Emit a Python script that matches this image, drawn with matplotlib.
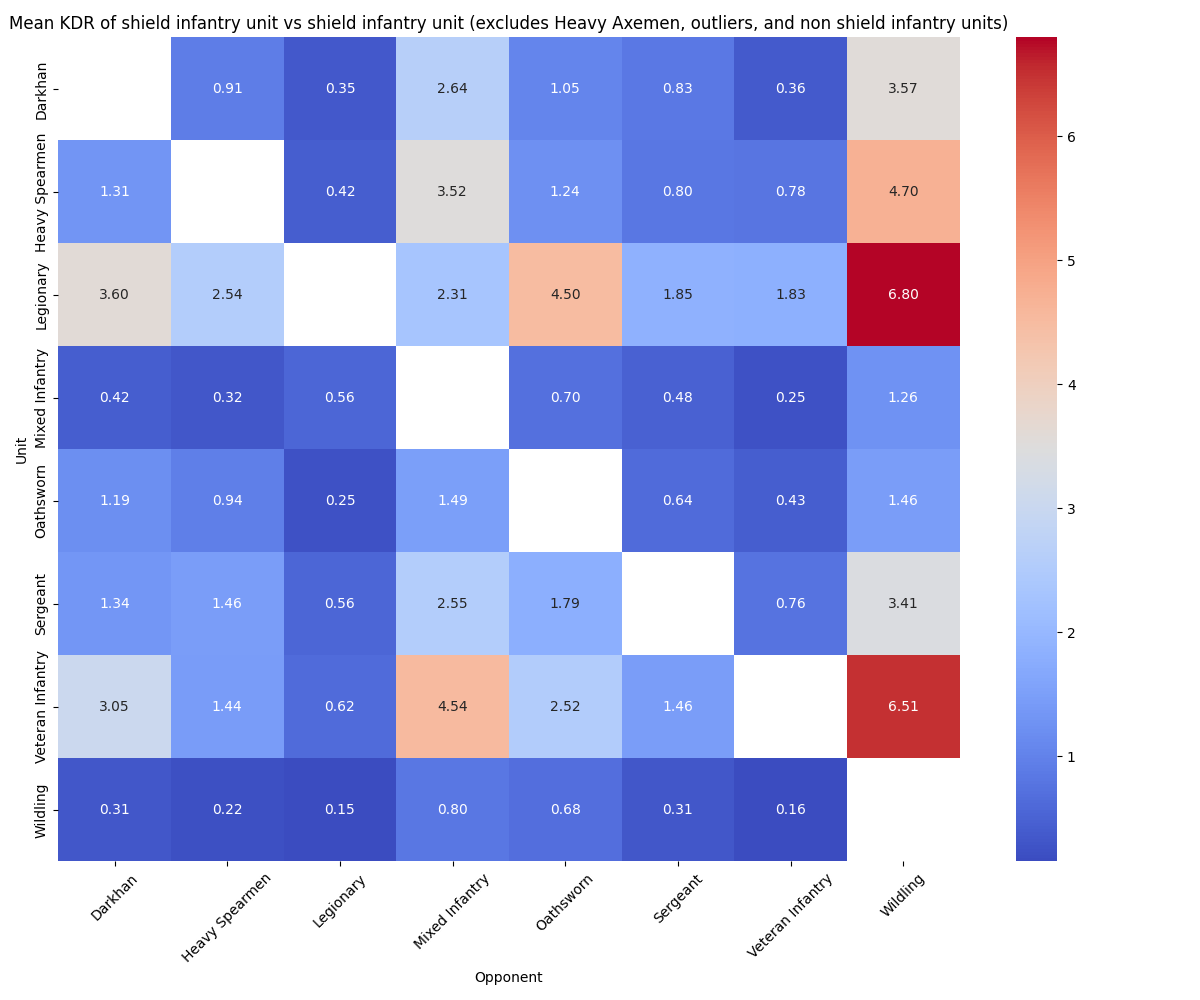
import numpy as np
import pandas as pd
import seaborn as sns
import matplotlib
matplotlib.use('Agg')
import matplotlib.pyplot as plt

units = ['Darkhan', 'Heavy Spearmen', 'Legionary', 'Mixed Infantry',
         'Oathsworn', 'Sergeant', 'Veteran Infantry', 'Wildling']
nan = np.nan

# rows = unit, columns = opponent
darkhan = [nan, 0.91, 0.35, 2.64, 1.05, 0.83, 0.36, 3.57]
heavy_spearmen = [1.31, nan, 0.42, 3.52, 1.24, 0.80, 0.78, 4.70]
legionary = [3.60, 2.54, nan, 2.31, 4.50, 1.85, 1.83, 6.80]
mixed_infantry = [0.42, 0.32, 0.56, nan, 0.70, 0.48, 0.25, 1.26]
oathsworn = [1.19, 0.94, 0.25, 1.49, nan, 0.64, 0.43, 1.46]
sergeant = [1.34, 1.46, 0.56, 2.55, 1.79, nan, 0.76, 3.41]
veteran_infantry = [3.05, 1.44, 0.62, 4.54, 2.52, 1.46, nan, 6.51]
wildling = [0.31, 0.22, 0.15, 0.80, 0.68, 0.31, 0.16, nan]

kdr = pd.DataFrame([darkhan, heavy_spearmen, legionary, mixed_infantry,
                    oathsworn, sergeant, veteran_infantry, wildling],
                   index=units, columns=units)
kdr.index.name = 'Unit'
kdr.columns.name = 'Opponent'

plt.figure(figsize=(12, 10))
sns.heatmap(kdr, annot=True, fmt='.2f', cmap='coolwarm')
plt.title('Mean KDR of shield infantry unit vs shield infantry unit '
          '(excludes Heavy Axemen, outliers, and non shield infantry units)')
plt.xlabel('Opponent')
plt.ylabel('Unit')
plt.xticks(rotation=45)
plt.tight_layout()
plt.savefig('out.png')
